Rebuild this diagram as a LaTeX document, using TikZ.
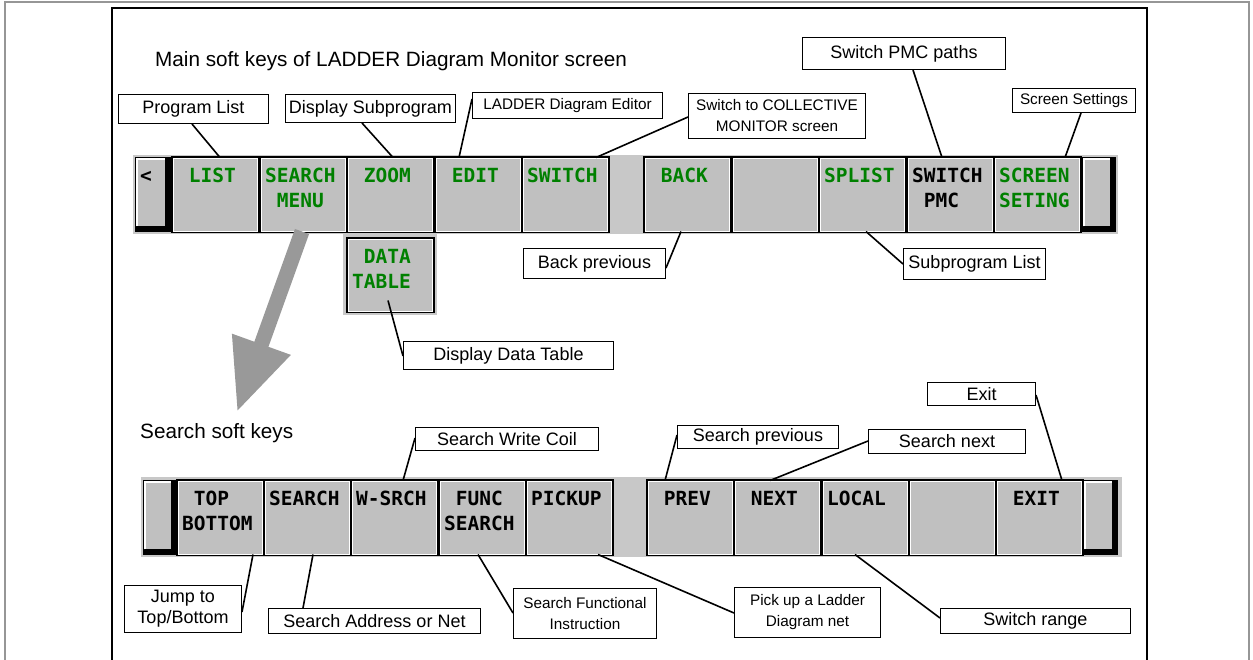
\documentclass[tikz,border=0pt]{standalone}
\usepackage{fontspec}
\setmainfont{Liberation Sans}
\newfontfamily\keyfont{DejaVu Sans Mono}
\usetikzlibrary{shapes.misc,calc,arrows.meta}
\definecolor{keygray}{RGB}{192,192,192}
\definecolor{bargray}{RGB}{200,200,200}
\definecolor{arrowgray}{RGB}{153,153,153}
\definecolor{keygreen}{RGB}{0,128,0}
\definecolor{framegray}{RGB}{150,150,150}
\newcommand\kp{\hphantom{M}}
\begin{document}
\begin{tikzpicture}[x=1pt,y=-1pt,
  bar/.style={rectangle, inner sep=0pt, outer sep=0pt, anchor=north west, fill=bargray},
  key/.style={chamfered rectangle, chamfered rectangle xsep=5.5pt, chamfered rectangle ysep=5.5pt,
    minimum width=84pt, minimum height=73pt, inner sep=0pt, anchor=north,
    fill=keygray, draw=white, line width=1pt, preaction={draw=black, line width=4.4pt}},
  endkey/.style={rectangle, anchor=north west, inner sep=0pt, minimum height=74pt,
    fill=keygray, draw=black, line width=0.8pt,
    path picture={
      \fill[black] ([xshift=-5pt]path picture bounding box.north east) rectangle (path picture bounding box.south east);
      \fill[black] ([yshift=5pt]path picture bounding box.south west) rectangle (path picture bounding box.south east);
      \draw[white,line width=1.5pt] ([xshift=1.5pt,yshift=5pt]path picture bounding box.south west) -- ([xshift=1.5pt,yshift=-1.5pt]path picture bounding box.north west) -- ([xshift=-5pt,yshift=-1.5pt]path picture bounding box.north east);
    }},
  ktext/.style={anchor=base west, inner sep=0pt, font=\keyfont\bfseries\fontsize{19.5}{20}\selectfont},
  lbl/.style={rectangle, anchor=north west, draw=black, line width=1pt, fill=white, inner sep=0pt,
    align=center, font=\fontsize{18}{21}\selectfont},
  lblsmall/.style={lbl, font=\fontsize{15.3}{21}\selectfont},
  conn/.style={draw=black, line width=1.6pt},
  bigarrow/.style={draw=arrowgray, line width=15pt, line cap=butt, -{Triangle[length=72pt,width=58pt]}},
  heading/.style={anchor=west, inner sep=0pt, font=\fontsize{20.7}{24}\selectfont},
]
\useasboundingbox (0,0) rectangle (1253,659);
\draw[framegray, line width=1.2pt] (5,2) rectangle (1249,670);
\draw[black, line width=2pt] (112,8) rectangle (1147,670);

\node[heading] (title) at (155,61) {Main soft keys of LADDER Diagram Monitor screen};
\node[heading] (ssk) at (140,433) {Search soft keys};

% ---------- top key bar ----------
\node[bar, minimum width=985pt, minimum height=79pt] (topbar) at (133,155) {};
\node[bar, minimum width=94pt, minimum height=81pt] (databg) at (343,234) {};
\node[endkey, minimum width=35pt] (kL) at (135,157) {};
\node[ktext] (kL-1) at ($(kL.north west)+(5,25)$) {<};
\node[key] (kLIST) at (215.5,157.5) {};
\node[key] (kSM) at (303.5,157.5) {};
\node[key] (kZOOM) at (390.5,157.5) {};
\node[key] (kEDIT) at (478.5,157.5) {};
\node[key] (kSW) at (565.5,157.5) {};
\node[key] (kBACK) at (687.5,157.5) {};
\node[key] (kBL) at (775.5,157.5) {};
\node[key] (kSPL) at (862.5,157.5) {};
\node[key] (kSWP) at (950.5,157.5) {};
\node[key] (kSCR) at (1037.5,157.5) {};
\node[endkey, minimum width=33pt] (kR) at (1082,157) {};
\node[key, minimum height=72pt] (kDATA) at (390.5,238.5) {};

\node[ktext, text=keygreen] (t1) at ($(kLIST.north)+(-38.5,25)$) {\kp LIST};
\node[ktext, text=keygreen] (t2) at ($(kSM.north)+(-38.5,25)$) {SEARCH};
\node[ktext, text=keygreen] (t3) at ($(kSM.north)+(-38.5,50)$) {\kp MENU};
\node[ktext, text=keygreen] (t4) at ($(kZOOM.north)+(-38.5,25)$) {\kp ZOOM};
\node[ktext, text=keygreen] (t5) at ($(kEDIT.north)+(-38.5,25)$) {\kp EDIT};
\node[ktext, text=keygreen] (t6) at ($(kSW.north)+(-38.5,25)$) {SWITCH};
\node[ktext, text=keygreen] (t7) at ($(kBACK.north)+(-38.5,25)$) {\kp BACK};
\node[ktext, text=keygreen] (t8) at ($(kSPL.north)+(-38.5,25)$) {SPLIST};
\node[ktext, text=black] (t9) at ($(kSWP.north)+(-38.5,25)$) {SWITCH};
\node[ktext, text=black] (t10) at ($(kSWP.north)+(-38.5,50)$) {\kp PMC};
\node[ktext, text=keygreen] (t11) at ($(kSCR.north)+(-38.5,25)$) {SCREEN};
\node[ktext, text=keygreen] (t12) at ($(kSCR.north)+(-38.5,50)$) {SETING};
\node[ktext, text=keygreen] (t13) at ($(kDATA.north)+(-38.5,25)$) {\kp DATA};
\node[ktext, text=keygreen] (t14) at ($(kDATA.north)+(-38.5,50)$) {TABLE};

% ---------- bottom key bar ----------
\node[bar, minimum width=981pt, minimum height=80pt] (botbar) at (141,477) {};
\node[endkey, minimum width=33pt] (bL) at (143,480) {};
\node[key] (bTOP) at (220.5,480.5) {};
\node[key] (bSRCH) at (307.5,480.5) {};
\node[key] (bWS) at (394.5,480.5) {};
\node[key] (bFUNC) at (482.5,480.5) {};
\node[key] (bPICK) at (569.5,480.5) {};
\node[key] (bPREV) at (690.5,480.5) {};
\node[key] (bNEXT) at (777.5,480.5) {};
\node[key] (bLOC) at (865.5,480.5) {};
\node[key] (bBL) at (952.5,480.5) {};
\node[key] (bEXIT) at (1039.5,480.5) {};
\node[endkey, minimum width=34pt] (bR) at (1083,480) {};

\node[ktext] (u1) at ($(bTOP.north)+(-38.5,25)$) {\kp TOP};
\node[ktext] (u2) at ($(bTOP.north)+(-38.5,50)$) {BOTTOM};
\node[ktext] (u3) at ($(bSRCH.north)+(-38.5,25)$) {SEARCH};
\node[ktext] (u4) at ($(bWS.north)+(-38.5,25)$) {W-SRCH};
\node[ktext] (u5) at ($(bFUNC.north)+(-38.5,25)$) {\kp FUNC};
\node[ktext] (u6) at ($(bFUNC.north)+(-38.5,50)$) {SEARCH};
\node[ktext] (u7) at ($(bPICK.north)+(-38.5,25)$) {PICKUP};
\node[ktext] (u8) at ($(bPREV.north)+(-38.5,25)$) {\kp PREV};
\node[ktext] (u9) at ($(bNEXT.north)+(-38.5,25)$) {\kp NEXT};
\node[ktext] (u10) at ($(bLOC.north)+(-38.5,25)$) {LOCAL};
\node[ktext] (u11) at ($(bEXIT.north)+(-38.5,25)$) {\kp EXIT};

% ---------- big arrow ----------
\coordinate (arrowtip) at (237,412);
\draw[bigarrow] ($(kSM.south)+(-1.5,0)$) -- (arrowtip);

% ---------- labels ----------
\node[lbl, minimum width=150pt, minimum height=29pt] (pl) at (118,94) {Program List};
\node[lbl, minimum width=170pt, minimum height=28pt] (ds) at (285,94) {Display Subprogram};
\node[lblsmall, minimum width=190pt, minimum height=26pt] (le) at (472,92) {LADDER Diagram Editor};
\node[lblsmall, minimum width=177pt, minimum height=45pt] (sc) at (688,93) {Switch to COLLECTIVE\\MONITOR screen};
\node[lbl, minimum width=203pt, minimum height=32pt] (sp) at (802,37) {Switch PMC paths};
\node[lblsmall, minimum width=123pt, minimum height=24pt] (ss) at (1012,88) {Screen Settings};
\node[lbl, minimum width=142pt, minimum height=30pt] (bp) at (523,248) {Back previous};
\node[lbl, minimum width=142pt, minimum height=31pt] (sl) at (903,248) {Subprogram List};
\node[lbl, minimum width=210pt, minimum height=28pt] (dd) at (403,341) {Display Data Table};
\node[lbl, minimum width=183pt, minimum height=23pt] (sw) at (415,427) {Search Write Coil};
\node[lbl, minimum width=161pt, minimum height=23pt] (sprev) at (677,425) {Search previous};
\node[lbl, minimum width=157pt, minimum height=24pt] (snext) at (868,429) {Search next};
\node[lbl, minimum width=108pt, minimum height=23pt] (ex) at (927,382) {Exit};
\node[lbl, minimum width=117pt, minimum height=47pt] (jt) at (124,585) {Jump to\\Top/Bottom};
\node[lbl, minimum width=212pt, minimum height=25pt] (sa) at (268,608) {Search Address or Net};
\node[lblsmall, minimum width=143pt, minimum height=50pt] (sf) at (513,588) {Search Functional\\Instruction};
\node[lblsmall, minimum width=146pt, minimum height=50pt] (pu) at (734,587) {Pick up a Ladder\\Diagram net};
\node[lbl, minimum width=190pt, minimum height=25pt] (sr) at (940,608) {Switch range};

% ---------- connectors ----------
\draw[conn] ($(pl.south west)+(74,0)$) -- ($(kLIST.north)+(4.5,0)$);
\draw[conn] ($(ds.south west)+(77,0)$) -- ($(kZOOM.north)+(2.5,0)$);
\draw[conn] ($(le.north west)+(0,7)$) -- ($(kEDIT.north)+(-19.5,0)$);
\draw[conn] ($(sc.north west)+(0,24)$) -- ($(kSW.north)+(30.5,0)$);
\draw[conn] ($(sp.south west)+(111,0)$) -- ($(kSWP.north)+(-8.5,0)$);
\draw[conn] ($(ss.south west)+(69,0)$) -- ($(kSCR.north)+(27.5,0)$);
\draw[conn] ($(bp.north east)+(0,20)$) -- ($(kBACK.south)+(-6.5,0)$);
\draw[conn] ($(sl.north west)+(0,16)$) -- ($(kSPL.south)+(3.5,0)$);
\draw[conn] ($(kDATA.north)+(-2.5,62)$) -- ($(dd.north west)+(0,15)$);
\draw[conn] ($(sw.north west)+(0,11)$) -- ($(bWS.north)+(8.5,0)$);
\draw[conn] ($(sprev.north west)+(0,10)$) -- ($(bPREV.north)+(-25.5,0)$);
\draw[conn] ($(snext.north west)+(0,12)$) -- ($(bNEXT.north)+(-7.5,0)$);
\draw[conn] ($(ex.north east)+(0,13)$) -- ($(bEXIT.north)+(22.5,0)$);
\draw[conn] ($(jt.north east)+(0,27)$) -- ($(bTOP.south)+(32.5,0)$);
\draw[conn] ($(sa.north west)+(35,0)$) -- ($(bSRCH.south)+(5.5,0)$);
\draw[conn] ($(sf.north west)+(0,25)$) -- ($(bFUNC.south)+(-4.5,0)$);
\draw[conn] ($(pu.north west)+(0,26)$) -- ($(bPICK.south)+(28.5,0)$);
\draw[conn] ($(sr.north west)+(0,10)$) -- ($(bLOC.south)+(-10.5,0)$);
\end{tikzpicture}
\end{document}
